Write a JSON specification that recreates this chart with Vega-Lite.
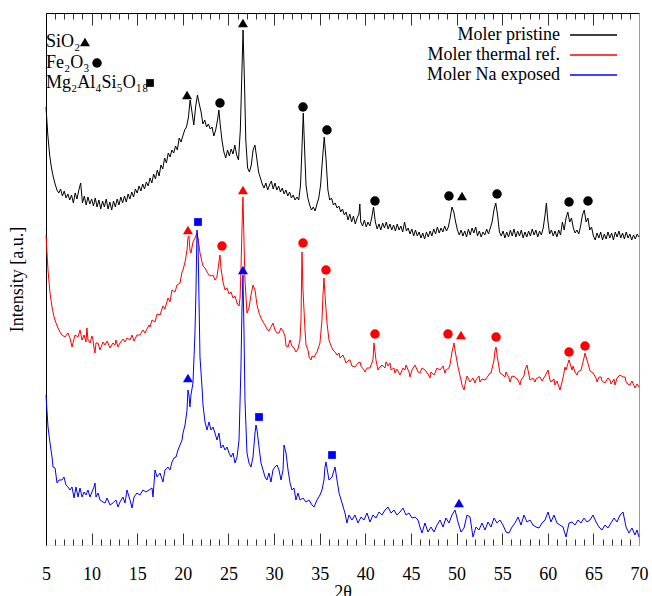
{
"$schema": "https://vega.github.io/schema/vega-lite/v6.json",
"width": 593, "height": 532,
"autosize": {"type": "none"},
"padding": {"left": 46, "top": 13, "right": 13, "bottom": 51},
"background": "white",
"config": {"view": {"stroke": null}},
"resolve": {"axis": {"x": "independent", "y": "independent"}},
"datasets": {
"pristine": [{"t":5,"i":438},{"t":5.2,"i":410},{"t":5.4,"i":390},{"t":5.6,"i":377},{"t":5.8,"i":368},{"t":6,"i":361},{"t":6.2,"i":355},{"t":6.4,"i":352},{"t":6.6,"i":356},{"t":6.8,"i":349},{"t":7,"i":354},{"t":7.2,"i":347},{"t":7.4,"i":351},{"t":7.6,"i":345},{"t":7.8,"i":350},{"t":8,"i":342},{"t":8.2,"i":352},{"t":8.4,"i":346},{"t":8.6,"i":355},{"t":8.8,"i":362},{"t":9,"i":342},{"t":9.2,"i":349},{"t":9.4,"i":340},{"t":9.6,"i":348},{"t":9.8,"i":341},{"t":10,"i":346},{"t":10.2,"i":339},{"t":10.4,"i":347},{"t":10.6,"i":338},{"t":10.8,"i":345},{"t":11,"i":336},{"t":11.2,"i":344},{"t":11.4,"i":338},{"t":11.6,"i":346},{"t":11.8,"i":336},{"t":12,"i":343},{"t":12.2,"i":335},{"t":12.4,"i":344},{"t":12.6,"i":338},{"t":12.8,"i":346},{"t":13,"i":340},{"t":13.2,"i":348},{"t":13.4,"i":342},{"t":13.6,"i":349},{"t":13.8,"i":343},{"t":14,"i":351},{"t":14.2,"i":346},{"t":14.4,"i":353},{"t":14.6,"i":348},{"t":14.8,"i":356},{"t":15,"i":352},{"t":15.2,"i":359},{"t":15.4,"i":354},{"t":15.6,"i":361},{"t":15.8,"i":356},{"t":16,"i":363},{"t":16.2,"i":359},{"t":16.4,"i":367},{"t":16.6,"i":362},{"t":16.8,"i":371},{"t":17,"i":366},{"t":17.2,"i":375},{"t":17.4,"i":369},{"t":17.6,"i":380},{"t":17.8,"i":376},{"t":18,"i":387},{"t":18.2,"i":382},{"t":18.4,"i":392},{"t":18.6,"i":388},{"t":18.8,"i":395},{"t":19,"i":392},{"t":19.2,"i":399},{"t":19.4,"i":395},{"t":19.6,"i":407},{"t":19.8,"i":403},{"t":20,"i":409},{"t":20.2,"i":415},{"t":20.4,"i":418},{"t":20.6,"i":427},{"t":20.8,"i":445},{"t":21,"i":433},{"t":21.2,"i":420},{"t":21.4,"i":438},{"t":21.6,"i":450},{"t":21.8,"i":441},{"t":22,"i":433},{"t":22.2,"i":421},{"t":22.4,"i":425},{"t":22.6,"i":418},{"t":22.8,"i":421},{"t":23,"i":416},{"t":23.2,"i":418},{"t":23.4,"i":409},{"t":23.6,"i":415},{"t":23.8,"i":425},{"t":23.95,"i":435},{"t":24.1,"i":420},{"t":24.3,"i":404},{"t":24.5,"i":393},{"t":24.7,"i":387},{"t":24.9,"i":395},{"t":25.1,"i":389},{"t":25.3,"i":396},{"t":25.5,"i":391},{"t":25.7,"i":400},{"t":25.9,"i":390},{"t":26.1,"i":385},{"t":26.3,"i":415},{"t":26.45,"i":465},{"t":26.6,"i":515},{"t":26.75,"i":465},{"t":26.9,"i":405},{"t":27.1,"i":377},{"t":27.3,"i":373},{"t":27.5,"i":380},{"t":27.7,"i":395},{"t":27.9,"i":400},{"t":28.1,"i":387},{"t":28.3,"i":373},{"t":28.5,"i":367},{"t":28.7,"i":361},{"t":28.9,"i":357},{"t":29.1,"i":362},{"t":29.3,"i":355},{"t":29.5,"i":360},{"t":29.7,"i":364},{"t":29.9,"i":356},{"t":30.1,"i":362},{"t":30.3,"i":355},{"t":30.5,"i":359},{"t":30.7,"i":353},{"t":30.9,"i":357},{"t":31.1,"i":351},{"t":31.3,"i":355},{"t":31.5,"i":349},{"t":31.7,"i":353},{"t":31.9,"i":347},{"t":32.1,"i":350},{"t":32.3,"i":345},{"t":32.5,"i":348},{"t":32.7,"i":345},{"t":32.9,"i":360},{"t":33.05,"i":395},{"t":33.2,"i":432},{"t":33.35,"i":395},{"t":33.5,"i":360},{"t":33.7,"i":347},{"t":33.9,"i":340},{"t":34.1,"i":335},{"t":34.3,"i":338},{"t":34.5,"i":334},{"t":34.7,"i":341},{"t":34.9,"i":347},{"t":35.1,"i":360},{"t":35.3,"i":385},{"t":35.5,"i":408},{"t":35.7,"i":385},{"t":35.9,"i":355},{"t":36.1,"i":345},{"t":36.3,"i":347},{"t":36.5,"i":340},{"t":36.7,"i":342},{"t":36.9,"i":337},{"t":37.1,"i":339},{"t":37.3,"i":333},{"t":37.5,"i":336},{"t":37.7,"i":330},{"t":37.9,"i":333},{"t":38.1,"i":325},{"t":38.3,"i":331},{"t":38.5,"i":323},{"t":38.7,"i":329},{"t":38.9,"i":321},{"t":39.1,"i":327},{"t":39.3,"i":331},{"t":39.4,"i":341},{"t":39.5,"i":323},{"t":39.7,"i":319},{"t":39.9,"i":325},{"t":40.1,"i":318},{"t":40.3,"i":323},{"t":40.5,"i":319},{"t":40.7,"i":327},{"t":40.9,"i":338},{"t":41.1,"i":323},{"t":41.3,"i":316},{"t":41.5,"i":321},{"t":41.7,"i":315},{"t":41.9,"i":322},{"t":42.1,"i":317},{"t":42.3,"i":323},{"t":42.5,"i":316},{"t":42.7,"i":321},{"t":42.9,"i":315},{"t":43.1,"i":320},{"t":43.3,"i":314},{"t":43.5,"i":321},{"t":43.7,"i":315},{"t":43.9,"i":319},{"t":44.1,"i":313},{"t":44.3,"i":323},{"t":44.5,"i":314},{"t":44.7,"i":317},{"t":44.9,"i":311},{"t":45.1,"i":316},{"t":45.3,"i":309},{"t":45.5,"i":315},{"t":45.7,"i":309},{"t":45.9,"i":313},{"t":46.1,"i":307},{"t":46.3,"i":312},{"t":46.5,"i":306},{"t":46.7,"i":313},{"t":46.9,"i":308},{"t":47.1,"i":314},{"t":47.3,"i":309},{"t":47.5,"i":316},{"t":47.7,"i":311},{"t":47.9,"i":318},{"t":48.1,"i":312},{"t":48.3,"i":317},{"t":48.5,"i":313},{"t":48.7,"i":319},{"t":48.9,"i":314},{"t":49.1,"i":318},{"t":49.3,"i":327},{"t":49.5,"i":338},{"t":49.7,"i":333},{"t":49.9,"i":323},{"t":50.1,"i":315},{"t":50.3,"i":310},{"t":50.5,"i":315},{"t":50.7,"i":309},{"t":50.9,"i":314},{"t":51.1,"i":308},{"t":51.3,"i":316},{"t":51.5,"i":310},{"t":51.7,"i":317},{"t":51.9,"i":312},{"t":52.1,"i":318},{"t":52.3,"i":309},{"t":52.5,"i":314},{"t":52.7,"i":308},{"t":52.9,"i":313},{"t":53.1,"i":310},{"t":53.3,"i":316},{"t":53.5,"i":311},{"t":53.7,"i":317},{"t":53.9,"i":323},{"t":54.1,"i":335},{"t":54.3,"i":342},{"t":54.5,"i":330},{"t":54.7,"i":313},{"t":54.9,"i":309},{"t":55.1,"i":314},{"t":55.3,"i":307},{"t":55.5,"i":313},{"t":55.7,"i":308},{"t":55.9,"i":315},{"t":56.1,"i":309},{"t":56.3,"i":316},{"t":56.5,"i":308},{"t":56.7,"i":314},{"t":56.9,"i":309},{"t":57.1,"i":315},{"t":57.3,"i":307},{"t":57.5,"i":313},{"t":57.7,"i":308},{"t":57.9,"i":314},{"t":58.1,"i":309},{"t":58.3,"i":316},{"t":58.5,"i":310},{"t":58.7,"i":315},{"t":58.9,"i":308},{"t":59.1,"i":314},{"t":59.3,"i":310},{"t":59.5,"i":317},{"t":59.7,"i":330},{"t":59.85,"i":342},{"t":60,"i":325},{"t":60.2,"i":311},{"t":60.4,"i":315},{"t":60.6,"i":309},{"t":60.8,"i":314},{"t":61,"i":308},{"t":61.2,"i":315},{"t":61.4,"i":310},{"t":61.6,"i":323},{"t":61.8,"i":315},{"t":62,"i":327},{"t":62.2,"i":333},{"t":62.4,"i":323},{"t":62.6,"i":327},{"t":62.8,"i":317},{"t":63,"i":312},{"t":63.2,"i":315},{"t":63.4,"i":311},{"t":63.6,"i":319},{"t":63.8,"i":330},{"t":64,"i":335},{"t":64.2,"i":323},{"t":64.4,"i":327},{"t":64.6,"i":315},{"t":64.8,"i":318},{"t":65,"i":309},{"t":65.2,"i":305},{"t":65.4,"i":312},{"t":65.6,"i":307},{"t":65.8,"i":313},{"t":66,"i":305},{"t":66.2,"i":311},{"t":66.4,"i":306},{"t":66.6,"i":313},{"t":66.8,"i":307},{"t":67,"i":312},{"t":67.2,"i":305},{"t":67.4,"i":313},{"t":67.6,"i":308},{"t":67.8,"i":314},{"t":68,"i":307},{"t":68.2,"i":312},{"t":68.4,"i":306},{"t":68.6,"i":313},{"t":68.8,"i":307},{"t":69,"i":311},{"t":69.2,"i":305},{"t":69.4,"i":310},{"t":69.6,"i":306},{"t":69.8,"i":311},{"t":70,"i":308}],
"thermal": [{"t":5,"i":310},{"t":5.22,"i":275},{"t":5.44,"i":252},{"t":5.66,"i":238},{"t":5.88,"i":228},{"t":6.1,"i":222},{"t":6.32,"i":217},{"t":6.53,"i":213},{"t":6.75,"i":210},{"t":7.08,"i":208},{"t":7.41,"i":212},{"t":7.63,"i":207},{"t":7.85,"i":198},{"t":8.18,"i":210},{"t":8.51,"i":208},{"t":8.73,"i":215},{"t":8.95,"i":205},{"t":9.17,"i":210},{"t":9.38,"i":203},{"t":9.49,"i":217},{"t":9.6,"i":205},{"t":9.82,"i":202},{"t":10.04,"i":209},{"t":10.15,"i":205},{"t":10.26,"i":197},{"t":10.37,"i":192},{"t":10.48,"i":202},{"t":10.7,"i":202},{"t":10.92,"i":195},{"t":11.25,"i":203},{"t":11.47,"i":200},{"t":11.69,"i":204},{"t":12.02,"i":197},{"t":12.34,"i":202},{"t":12.56,"i":200},{"t":12.67,"i":205},{"t":12.89,"i":198},{"t":13.11,"i":202},{"t":13.44,"i":206},{"t":13.66,"i":203},{"t":13.88,"i":207},{"t":14.21,"i":205},{"t":14.43,"i":210},{"t":14.65,"i":204},{"t":14.97,"i":210},{"t":15.3,"i":210},{"t":15.63,"i":215},{"t":15.85,"i":212},{"t":16.29,"i":220},{"t":16.4,"i":218},{"t":16.62,"i":225},{"t":16.95,"i":223},{"t":17.17,"i":231},{"t":17.5,"i":230},{"t":17.82,"i":239},{"t":18.04,"i":236},{"t":18.37,"i":247},{"t":18.59,"i":243},{"t":18.81,"i":255},{"t":19.14,"i":253},{"t":19.36,"i":260},{"t":19.69,"i":262},{"t":19.91,"i":273},{"t":20.02,"i":275},{"t":20.24,"i":283},{"t":20.46,"i":295},{"t":20.56,"i":307},{"t":20.67,"i":309},{"t":20.78,"i":295},{"t":20.89,"i":292},{"t":21.11,"i":303},{"t":21.33,"i":307},{"t":21.55,"i":312},{"t":21.77,"i":300},{"t":21.88,"i":292},{"t":22.1,"i":283},{"t":22.21,"i":279},{"t":22.43,"i":277},{"t":22.65,"i":273},{"t":22.87,"i":270},{"t":23.09,"i":269},{"t":23.31,"i":270},{"t":23.52,"i":265},{"t":23.74,"i":268},{"t":23.96,"i":283},{"t":24.07,"i":290},{"t":24.18,"i":277},{"t":24.4,"i":263},{"t":24.62,"i":255},{"t":24.84,"i":257},{"t":25.06,"i":251},{"t":25.28,"i":253},{"t":25.5,"i":247},{"t":25.72,"i":249},{"t":25.94,"i":242},{"t":26.16,"i":239},{"t":26.27,"i":247},{"t":26.37,"i":275},{"t":26.48,"i":315},{"t":26.59,"i":348},{"t":26.7,"i":305},{"t":26.81,"i":265},{"t":27.03,"i":232},{"t":27.25,"i":237},{"t":27.47,"i":250},{"t":27.69,"i":260},{"t":27.91,"i":255},{"t":28.13,"i":240},{"t":28.35,"i":232},{"t":28.57,"i":227},{"t":28.79,"i":223},{"t":29.01,"i":220},{"t":29.22,"i":216},{"t":29.44,"i":214},{"t":29.66,"i":218},{"t":29.88,"i":222},{"t":30.1,"i":215},{"t":30.32,"i":212},{"t":30.54,"i":212},{"t":30.76,"i":217},{"t":30.98,"i":214},{"t":31.2,"i":209},{"t":31.31,"i":199},{"t":31.53,"i":198},{"t":31.75,"i":205},{"t":31.96,"i":199},{"t":32.18,"i":197},{"t":32.4,"i":193},{"t":32.62,"i":196},{"t":32.84,"i":205},{"t":32.95,"i":225},{"t":33.06,"i":293},{"t":33.17,"i":255},{"t":33.39,"i":215},{"t":33.5,"i":200},{"t":33.72,"i":195},{"t":33.83,"i":188},{"t":34.05,"i":185},{"t":34.16,"i":189},{"t":34.38,"i":188},{"t":34.7,"i":193},{"t":35.03,"i":202},{"t":35.25,"i":225},{"t":35.36,"i":250},{"t":35.47,"i":267},{"t":35.58,"i":250},{"t":35.8,"i":222},{"t":36.02,"i":205},{"t":36.13,"i":202},{"t":36.35,"i":197},{"t":36.46,"i":195},{"t":36.68,"i":193},{"t":36.9,"i":190},{"t":37.12,"i":192},{"t":37.23,"i":187},{"t":37.45,"i":189},{"t":37.55,"i":190},{"t":37.77,"i":185},{"t":37.88,"i":182},{"t":38.21,"i":185},{"t":38.32,"i":185},{"t":38.54,"i":179},{"t":38.87,"i":178},{"t":39.2,"i":182},{"t":39.42,"i":183},{"t":39.53,"i":179},{"t":39.86,"i":175},{"t":39.97,"i":173},{"t":40.19,"i":177},{"t":40.51,"i":177},{"t":40.84,"i":185},{"t":40.95,"i":202},{"t":41.17,"i":185},{"t":41.39,"i":175},{"t":41.5,"i":177},{"t":41.83,"i":180},{"t":42.16,"i":177},{"t":42.27,"i":183},{"t":42.49,"i":179},{"t":42.71,"i":182},{"t":42.82,"i":175},{"t":43.14,"i":177},{"t":43.25,"i":172},{"t":43.47,"i":176},{"t":43.8,"i":170},{"t":44.13,"i":177},{"t":44.35,"i":175},{"t":44.46,"i":180},{"t":44.79,"i":173},{"t":44.9,"i":168},{"t":45.12,"i":175},{"t":45.45,"i":180},{"t":45.78,"i":173},{"t":45.99,"i":172},{"t":46.21,"i":177},{"t":46.54,"i":175},{"t":46.87,"i":171},{"t":47.09,"i":167},{"t":47.2,"i":173},{"t":47.53,"i":170},{"t":47.64,"i":172},{"t":47.86,"i":177},{"t":48.19,"i":175},{"t":48.52,"i":179},{"t":48.73,"i":172},{"t":48.84,"i":175},{"t":49.17,"i":177},{"t":49.28,"i":180},{"t":49.5,"i":193},{"t":49.72,"i":202},{"t":49.83,"i":195},{"t":50.16,"i":178},{"t":50.49,"i":165},{"t":50.6,"i":160},{"t":50.82,"i":155},{"t":51.04,"i":165},{"t":51.15,"i":169},{"t":51.48,"i":163},{"t":51.8,"i":167},{"t":52.02,"i":162},{"t":52.13,"i":165},{"t":52.46,"i":169},{"t":52.57,"i":163},{"t":52.79,"i":166},{"t":53.12,"i":165},{"t":53.45,"i":169},{"t":53.67,"i":172},{"t":53.78,"i":172},{"t":54.11,"i":185},{"t":54.22,"i":195},{"t":54.33,"i":198},{"t":54.44,"i":190},{"t":54.76,"i":172},{"t":55.09,"i":170},{"t":55.31,"i":168},{"t":55.42,"i":173},{"t":55.75,"i":167},{"t":55.86,"i":163},{"t":56.08,"i":169},{"t":56.41,"i":168},{"t":56.74,"i":165},{"t":56.96,"i":160},{"t":57.07,"i":165},{"t":57.39,"i":169},{"t":57.5,"i":175},{"t":57.72,"i":180},{"t":58.05,"i":165},{"t":58.38,"i":167},{"t":58.6,"i":163},{"t":58.71,"i":166},{"t":59.04,"i":168},{"t":59.15,"i":168},{"t":59.37,"i":164},{"t":59.7,"i":169},{"t":60.03,"i":175},{"t":60.24,"i":165},{"t":60.35,"i":163},{"t":60.68,"i":166},{"t":60.79,"i":160},{"t":61.01,"i":164},{"t":61.34,"i":155},{"t":61.67,"i":167},{"t":61.89,"i":178},{"t":62,"i":175},{"t":62.33,"i":185},{"t":62.66,"i":175},{"t":62.77,"i":179},{"t":62.98,"i":173},{"t":63.2,"i":170},{"t":63.31,"i":173},{"t":63.64,"i":175},{"t":63.97,"i":187},{"t":64.08,"i":192},{"t":64.3,"i":185},{"t":64.52,"i":178},{"t":64.63,"i":174},{"t":64.96,"i":172},{"t":65.29,"i":167},{"t":65.4,"i":163},{"t":65.62,"i":168},{"t":65.84,"i":168},{"t":65.94,"i":164},{"t":66.27,"i":162},{"t":66.6,"i":167},{"t":66.82,"i":165},{"t":66.93,"i":161},{"t":67.26,"i":166},{"t":67.37,"i":160},{"t":67.59,"i":167},{"t":67.92,"i":170},{"t":68.25,"i":168},{"t":68.47,"i":168},{"t":68.58,"i":163},{"t":68.9,"i":160},{"t":69.01,"i":160},{"t":69.23,"i":164},{"t":69.56,"i":157},{"t":69.78,"i":161},{"t":70,"i":158}],
"naexp": [{"t":5,"i":150},{"t":5.22,"i":118},{"t":5.44,"i":102},{"t":5.66,"i":88},{"t":5.77,"i":78},{"t":5.99,"i":77},{"t":6.21,"i":62},{"t":6.43,"i":65},{"t":6.75,"i":65},{"t":6.97,"i":68},{"t":7.19,"i":60},{"t":7.41,"i":58},{"t":7.63,"i":55},{"t":7.85,"i":58},{"t":8.07,"i":47},{"t":8.29,"i":58},{"t":8.51,"i":48},{"t":8.73,"i":57},{"t":8.95,"i":48},{"t":9.17,"i":53},{"t":9.38,"i":50},{"t":9.6,"i":55},{"t":9.82,"i":48},{"t":10.04,"i":53},{"t":10.26,"i":58},{"t":10.37,"i":62},{"t":10.48,"i":48},{"t":10.7,"i":52},{"t":10.92,"i":45},{"t":11.25,"i":43},{"t":11.47,"i":42},{"t":11.69,"i":47},{"t":12.02,"i":40},{"t":12.34,"i":42},{"t":12.67,"i":45},{"t":12.89,"i":38},{"t":13.11,"i":43},{"t":13.44,"i":48},{"t":13.66,"i":42},{"t":13.88,"i":55},{"t":14.21,"i":45},{"t":14.43,"i":37},{"t":14.65,"i":48},{"t":14.97,"i":52},{"t":15.3,"i":50},{"t":15.63,"i":55},{"t":15.96,"i":53},{"t":16.29,"i":55},{"t":16.62,"i":57},{"t":16.73,"i":48},{"t":16.95,"i":75},{"t":17.17,"i":68},{"t":17.5,"i":72},{"t":17.82,"i":63},{"t":18.04,"i":75},{"t":18.37,"i":78},{"t":18.59,"i":75},{"t":18.81,"i":83},{"t":19.03,"i":87},{"t":19.25,"i":88},{"t":19.47,"i":95},{"t":19.69,"i":100},{"t":19.91,"i":105},{"t":20.02,"i":112},{"t":20.24,"i":120},{"t":20.46,"i":135},{"t":20.56,"i":155},{"t":20.67,"i":150},{"t":20.78,"i":138},{"t":20.89,"i":150},{"t":21.11,"i":162},{"t":21.33,"i":212},{"t":21.44,"i":255},{"t":21.55,"i":315},{"t":21.66,"i":305},{"t":21.77,"i":245},{"t":21.88,"i":188},{"t":22.1,"i":158},{"t":22.21,"i":140},{"t":22.43,"i":123},{"t":22.65,"i":115},{"t":22.87,"i":123},{"t":23.09,"i":115},{"t":23.31,"i":118},{"t":23.52,"i":112},{"t":23.74,"i":105},{"t":23.96,"i":112},{"t":24.18,"i":97},{"t":24.4,"i":100},{"t":24.62,"i":95},{"t":24.84,"i":98},{"t":25.06,"i":92},{"t":25.28,"i":88},{"t":25.5,"i":92},{"t":25.72,"i":82},{"t":25.94,"i":88},{"t":26.16,"i":105},{"t":26.37,"i":178},{"t":26.48,"i":235},{"t":26.59,"i":270},{"t":26.7,"i":215},{"t":26.81,"i":145},{"t":27.03,"i":92},{"t":27.25,"i":82},{"t":27.47,"i":78},{"t":27.69,"i":88},{"t":27.91,"i":112},{"t":28.02,"i":120},{"t":28.13,"i":115},{"t":28.35,"i":98},{"t":28.57,"i":82},{"t":28.79,"i":75},{"t":29.01,"i":68},{"t":29.22,"i":65},{"t":29.44,"i":72},{"t":29.66,"i":63},{"t":29.88,"i":75},{"t":30.1,"i":78},{"t":30.32,"i":80},{"t":30.54,"i":75},{"t":30.76,"i":65},{"t":30.98,"i":75},{"t":31.09,"i":100},{"t":31.31,"i":92},{"t":31.53,"i":75},{"t":31.75,"i":62},{"t":31.96,"i":55},{"t":32.18,"i":57},{"t":32.4,"i":45},{"t":32.62,"i":52},{"t":32.84,"i":45},{"t":33.17,"i":47},{"t":33.5,"i":43},{"t":33.83,"i":45},{"t":34.16,"i":40},{"t":34.38,"i":38},{"t":34.7,"i":45},{"t":35.03,"i":50},{"t":35.25,"i":55},{"t":35.47,"i":65},{"t":35.58,"i":78},{"t":35.69,"i":83},{"t":35.8,"i":77},{"t":36.02,"i":65},{"t":36.35,"i":68},{"t":36.68,"i":78},{"t":36.9,"i":65},{"t":37.12,"i":52},{"t":37.45,"i":42},{"t":37.77,"i":32},{"t":37.99,"i":22},{"t":38.21,"i":30},{"t":38.54,"i":25},{"t":38.87,"i":30},{"t":39.2,"i":22},{"t":39.53,"i":28},{"t":39.86,"i":25},{"t":40.19,"i":32},{"t":40.51,"i":23},{"t":40.84,"i":30},{"t":41.17,"i":27},{"t":41.5,"i":33},{"t":41.83,"i":30},{"t":42.16,"i":35},{"t":42.49,"i":38},{"t":42.82,"i":32},{"t":43.14,"i":35},{"t":43.47,"i":30},{"t":43.8,"i":33},{"t":44.13,"i":37},{"t":44.46,"i":30},{"t":44.79,"i":32},{"t":45.12,"i":27},{"t":45.45,"i":28},{"t":45.78,"i":25},{"t":45.99,"i":18},{"t":46.21,"i":12},{"t":46.54,"i":22},{"t":46.87,"i":13},{"t":47.2,"i":18},{"t":47.53,"i":13},{"t":47.86,"i":20},{"t":48.19,"i":25},{"t":48.52,"i":18},{"t":48.84,"i":27},{"t":49.17,"i":22},{"t":49.5,"i":30},{"t":49.83,"i":35},{"t":50.16,"i":23},{"t":50.49,"i":13},{"t":50.82,"i":17},{"t":51.15,"i":30},{"t":51.48,"i":28},{"t":51.8,"i":8},{"t":52.13,"i":18},{"t":52.46,"i":15},{"t":52.79,"i":22},{"t":53.12,"i":15},{"t":53.45,"i":23},{"t":53.78,"i":18},{"t":54.11,"i":27},{"t":54.44,"i":22},{"t":54.76,"i":25},{"t":55.09,"i":20},{"t":55.42,"i":13},{"t":55.75,"i":12},{"t":56.08,"i":18},{"t":56.41,"i":22},{"t":56.74,"i":28},{"t":57.07,"i":20},{"t":57.39,"i":30},{"t":57.72,"i":23},{"t":58.05,"i":25},{"t":58.38,"i":20},{"t":58.71,"i":18},{"t":59.04,"i":17},{"t":59.37,"i":22},{"t":59.7,"i":25},{"t":60.03,"i":33},{"t":60.35,"i":23},{"t":60.68,"i":30},{"t":61.01,"i":22},{"t":61.34,"i":20},{"t":61.67,"i":18},{"t":62,"i":8},{"t":62.33,"i":22},{"t":62.66,"i":23},{"t":62.98,"i":20},{"t":63.31,"i":25},{"t":63.64,"i":22},{"t":63.97,"i":27},{"t":64.3,"i":23},{"t":64.63,"i":25},{"t":64.96,"i":30},{"t":65.29,"i":23},{"t":65.62,"i":18},{"t":65.94,"i":15},{"t":66.27,"i":20},{"t":66.6,"i":17},{"t":66.93,"i":22},{"t":67.26,"i":27},{"t":67.59,"i":23},{"t":67.92,"i":30},{"t":68.25,"i":33},{"t":68.58,"i":18},{"t":68.9,"i":12},{"t":69.23,"i":17},{"t":69.56,"i":10},{"t":69.78,"i":15},{"t":70,"i":8}],
"markers": [
{"s":"pristine","p":"SiO2","t":20.46,"i":450},{"s":"pristine","p":"Fe2O3","t":24.07,"i":442},{"s":"pristine","p":"SiO2","t":26.59,"i":522},{"s":"pristine","p":"Fe2O3","t":33.17,"i":438},{"s":"pristine","p":"Fe2O3","t":35.8,"i":415},{"s":"pristine","p":"Fe2O3","t":41.06,"i":344},{"s":"pristine","p":"Fe2O3","t":49.17,"i":349},{"s":"pristine","p":"SiO2","t":50.6,"i":349},{"s":"pristine","p":"Fe2O3","t":54.44,"i":351},{"s":"pristine","p":"Fe2O3","t":62.33,"i":343},{"s":"pristine","p":"Fe2O3","t":64.41,"i":344},
{"s":"thermal","p":"SiO2","t":20.56,"i":315},{"s":"thermal","p":"Fe2O3","t":24.29,"i":299},{"s":"thermal","p":"SiO2","t":26.59,"i":355},{"s":"thermal","p":"Fe2O3","t":33.17,"i":302},{"s":"thermal","p":"Fe2O3","t":35.69,"i":275},{"s":"thermal","p":"Fe2O3","t":41.06,"i":211},{"s":"thermal","p":"Fe2O3","t":49.06,"i":211},{"s":"thermal","p":"SiO2","t":50.49,"i":210},{"s":"thermal","p":"Fe2O3","t":54.33,"i":208},{"s":"thermal","p":"Fe2O3","t":62.33,"i":193},{"s":"thermal","p":"Fe2O3","t":64.08,"i":199},
{"s":"Na","p":"SiO2","t":20.56,"i":167},{"s":"Na","p":"Mg2Al4Si5O18","t":21.66,"i":323},{"s":"Na","p":"SiO2","t":26.59,"i":275},{"s":"Na","p":"Mg2Al4Si5O18","t":28.35,"i":128},{"s":"Na","p":"Mg2Al4Si5O18","t":36.35,"i":90},{"s":"Na","p":"SiO2","t":50.27,"i":42},
{"s":"key","p":"SiO2","t":9.27,"i":503},{"s":"key","p":"Fe2O3","t":10.59,"i":482},{"s":"key","p":"Mg2Al4Si5O18","t":16.4,"i":462}],
"phases": [{"t":5.0,"i":503,"txt":"SiO₂"},{"t":5.0,"i":482,"txt":"Fe₂O₃"},{"t":5.0,"i":462,"txt":"Mg₂Al₄Si₅O₁₈"}],
"series": [{"s":"pristine","label":"Moler pristine","t":61.34,"t1":62.44,"t2":67.59,"i":510},{"s":"thermal","label":"Moler thermal ref.","t":61.34,"t1":62.44,"t2":67.59,"i":490},{"s":"Na","label":"Moler Na exposed","t":61.34,"t1":62.44,"t2":67.59,"i":470}]
},
"layer": [
{"data": {"name": "pristine"}, "mark": {"type": "line", "color": "black", "strokeWidth": 1},
 "encoding": {
  "x": {"field": "t", "type": "quantitative", "scale": {"domain": [5, 70], "nice": false, "zero": false},
        "axis": {"orient": "bottom", "values": [5,10,15,20,25,30,35,40,45,50,55,60,65,70], "labelOverlap": false, "labelFlush": false, "gridOpacity": 0,
                 "tickColor": "#333", "tickSize": -12, "domainColor": "#e6e6e6",
                 "labelFont": "Liberation Serif", "labelFontSize": 18, "labelColor": "black", "labelPadding": 32,
                 "title": "2θ", "titleFont": "Liberation Serif", "titleFontSize": 18, "titleFontWeight": "normal", "titleColor": "black", "titlePadding": 0}},
  "y": {"field": "i", "type": "quantitative", "scale": {"domain": [0, 532], "nice": false, "zero": false},
        "axis": {"orient": "left", "ticks": false, "labels": false, "gridOpacity": 0, "domainColor": "black", "title": "Intensity [a.u.]", "titleFont": "Liberation Serif", "titleFontSize": 18, "titleFontWeight": "normal", "titleColor": "black", "titlePadding": 20}}}},
{"data": {"name": "thermal"}, "mark": {"type": "line", "color": "#ff0000", "strokeWidth": 1},
 "encoding": {
  "x": {"field": "t", "type": "quantitative",
        "axis": {"orient": "top", "values": [5,10,15,20,25,30,35,40,45,50,55,60,65,70], "labels": true, "labelExpr": "''", "gridOpacity": 0, "domainColor": "black", "tickColor": "#333", "tickSize": -12, "title": null}},
  "y": {"field": "i", "type": "quantitative", "axis": {"orient": "right", "ticks": true, "tickSize": 0, "labels": true, "labelExpr": "''", "gridOpacity": 0, "domainColor": "#999999", "title": null}}}},
{"data": {"name": "naexp"}, "mark": {"type": "line", "color": "#0000ff", "strokeWidth": 1},
 "encoding": {
  "x": {"field": "t", "type": "quantitative",
        "axis": {"orient": "bottom", "values": [6,7,8,9,11,12,13,14,16,17,18,19,21,22,23,24,26,27,28,29,31,32,33,34,36,37,38,39,41,42,43,44,46,47,48,49,51,52,53,54,56,57,58,59,61,62,63,64,66,67,68,69], "labels": true, "labelExpr": "''", "domainOpacity": 0, "gridOpacity": 0, "tickColor": "#333", "tickSize": -6, "title": null}},
  "y": {"field": "i", "type": "quantitative", "axis": null}}},
{"data": {"name": "markers"}, "transform": [{"filter": "datum.p === 'SiO2'"}], "mark": {"type": "point", "shape": "triangle-up", "size": 100, "filled": true, "opacity": 1, "strokeWidth": 0},
 "encoding": {
  "x": {"field": "t", "type": "quantitative",
        "axis": {"orient": "top", "values": [6,7,8,9,11,12,13,14,16,17,18,19,21,22,23,24,26,27,28,29,31,32,33,34,36,37,38,39,41,42,43,44,46,47,48,49,51,52,53,54,56,57,58,59,61,62,63,64,66,67,68,69], "labels": true, "labelExpr": "''", "domainOpacity": 0, "gridOpacity": 0, "tickColor": "#333", "tickSize": -6, "title": null}},
  "y": {"field": "i", "type": "quantitative", "axis": null},
  "color": {"field": "s", "type": "nominal", "scale": {"domain": ["pristine", "thermal", "Na", "key"], "range": ["black", "#ff0000", "#0000ff", "black"]}, "legend": null}}},
{"data": {"name": "markers"}, "transform": [{"filter": "datum.p === 'Fe2O3'"}], "mark": {"type": "point", "shape": "circle", "size": 90, "filled": true, "opacity": 1, "strokeWidth": 0},
 "encoding": {
  "x": {"field": "t", "type": "quantitative", "axis": null},
  "y": {"field": "i", "type": "quantitative", "axis": null},
  "color": {"field": "s", "type": "nominal", "scale": {"domain": ["pristine", "thermal", "Na", "key"], "range": ["black", "#ff0000", "#0000ff", "black"]}, "legend": null}}},
{"data": {"name": "markers"}, "transform": [{"filter": "datum.p === 'Mg2Al4Si5O18'"}], "mark": {"type": "point", "shape": "square", "size": 60, "filled": true, "opacity": 1, "strokeWidth": 0},
 "encoding": {
  "x": {"field": "t", "type": "quantitative", "axis": null},
  "y": {"field": "i", "type": "quantitative", "axis": null},
  "color": {"field": "s", "type": "nominal", "scale": {"domain": ["pristine", "thermal", "Na", "key"], "range": ["black", "#ff0000", "#0000ff", "black"]}, "legend": null}}},
{"data": {"name": "phases"}, "mark": {"type": "text", "align": "left", "baseline": "middle", "font": "Liberation Serif", "fontSize": 18, "color": "black"},
 "encoding": {
  "x": {"field": "t", "type": "quantitative", "axis": null},
  "y": {"field": "i", "type": "quantitative", "axis": null},
  "text": {"field": "txt"}}},
{"data": {"name": "series"}, "mark": {"type": "text", "align": "right", "baseline": "middle", "font": "Liberation Serif", "fontSize": 18, "color": "black"},
 "encoding": {
  "x": {"field": "t", "type": "quantitative", "axis": null},
  "y": {"field": "i", "type": "quantitative", "axis": null},
  "text": {"field": "label"}}},
{"data": {"name": "series"}, "mark": {"type": "rule", "strokeWidth": 1.5},
 "encoding": {
  "x": {"field": "t1", "type": "quantitative", "axis": null},
  "x2": {"field": "t2"},
  "y": {"field": "i", "type": "quantitative", "axis": null},
  "color": {"field": "s", "type": "nominal", "scale": {"domain": ["pristine", "thermal", "Na", "key"], "range": ["black", "#ff0000", "#0000ff", "black"]}, "legend": null}}}
]
}
